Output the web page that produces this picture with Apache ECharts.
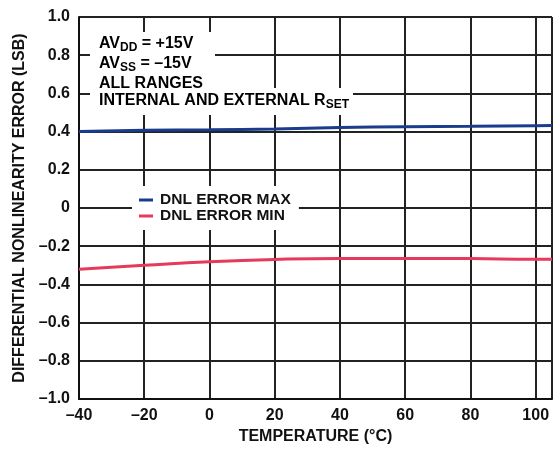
<!DOCTYPE html>
<html>
<head>
<meta charset="utf-8">
<script src="https://cdn.jsdelivr.net/npm/echarts@6/dist/echarts.min.js"></script>
<style>html,body{margin:0;padding:0;background:#fff}#c{width:555px;height:450px}</style>
</head>
<body>
<div id="c"></div>
<script>
var temps = [-40, -20, 0, 20, 40, 60, 80, 100, 105];
var dnlMax = [0.400, 0.407, 0.410, 0.414, 0.421, 0.426, 0.428, 0.431, 0.432];
var dnlMin = [-0.321, -0.300, -0.281, -0.269, -0.264, -0.264, -0.265, -0.268, -0.268];
var seriesNames = ['DNL ERROR MAX', 'DNL ERROR MIN'];
var seriesColors = ['#1a3c8c', '#e63a5c'];
var xTitle = 'TEMPERATURE (°C)';
var yTitle = 'DIFFERENTIAL NONLINEARITY ERROR (LSB)';

var FONT = '"Liberation Sans", Arial, sans-serif';
function pairs(xs, ys) { return xs.map(function (x, i) { return [x, ys[i]]; }); }
function dash(s) { return String(s).replace('-', '\u2013'); }

var chart = echarts.init(document.getElementById('c'), null, { renderer: 'canvas' });
var richBase = {
  b: { fontFamily: FONT, fontWeight: 'bold', fontSize: 16, lineHeight: 20, verticalAlign: 'middle', color: '#111' },
  s: { fontFamily: FONT, fontWeight: 'bold', fontSize: 12, lineHeight: 10, verticalAlign: 'bottom', color: '#111' }
};
chart.setOption({
  animation: false,
  backgroundColor: '#fff',
  grid: { left: 79, right: 0, top: 17, bottom: 51, containLabel: false },
  xAxis: {
    type: 'value', min: -40, max: 105, interval: 20,
    name: xTitle, nameLocation: 'middle', nameGap: 30,
    nameTextStyle: { fontFamily: FONT, fontWeight: 'bold', fontSize: 16, color: '#111' },
    axisLine: { show: true, onZero: false, lineStyle: { color: '#111', width: 2 } },
    axisTick: { show: false },
    axisLabel: {
      margin: 9, fontFamily: FONT, fontWeight: 'bold', fontSize: 16, color: '#111',
      formatter: function (v) { return v % 20 === 0 ? dash(v) : ''; }
    },
    splitLine: { show: true, lineStyle: { color: '#222', width: 2 } }
  },
  yAxis: {
    type: 'value', min: -1, max: 1, interval: 0.2,
    name: yTitle, nameLocation: 'middle', nameGap: 44,
    nameTextStyle: { fontFamily: FONT, fontWeight: 'bold', fontSize: 16, color: '#111' },
    axisLine: { show: true, onZero: false, lineStyle: { color: '#111', width: 2 } },
    axisTick: { show: false },
    axisLabel: {
      margin: 9, fontFamily: FONT, fontWeight: 'bold', fontSize: 16, color: '#111',
      formatter: function (v) { if (Math.abs(v) < 1e-9) return '0'; return (v < 0 ? '\u2013' : '') + Math.abs(v).toFixed(1); }
    },
    splitLine: { show: true, lineStyle: { color: '#222', width: 2 } }
  },
  legend: {
    orient: 'vertical', left: 132, top: 186,
    padding: [6, 8, 6, 7], itemGap: 0,
    backgroundColor: '#fff',
    icon: 'rect', itemWidth: 14, itemHeight: 3,
    textStyle: { fontFamily: FONT, fontWeight: 'bold', fontSize: 15.5, lineHeight: 16, color: '#111', padding: [0, 0, 0, 2] },
    data: seriesNames
  },
  graphic: [
    {
      type: 'text', left: 90, top: 32, z: 10,
      style: {
        text: '{b|AV}{s|DD}{b| = +15V}\n{b|AV}{s|SS}{b| = \u201315V}\n{b|ALL RANGES}',
        rich: richBase, backgroundColor: '#fff', padding: [2, 12, 0, 9]
      }
    },
    {
      type: 'text', left: 90, top: 88, z: 11,
      style: {
        text: '{b|INTERNAL AND EXTERNAL R}{s|SET}',
        rich: richBase, backgroundColor: '#fff', padding: [3, 4, 4, 9]
      }
    }
  ],
  series: [
    {
      name: seriesNames[0], type: 'line', data: pairs(temps, dnlMax), smooth: true,
      showSymbol: false, symbol: 'none', color: seriesColors[0],
      lineStyle: { color: seriesColors[0], width: 3 }
    },
    {
      name: seriesNames[1], type: 'line', data: pairs(temps, dnlMin), smooth: true,
      showSymbol: false, symbol: 'none', color: seriesColors[1],
      lineStyle: { color: seriesColors[1], width: 3 }
    }
  ]
});
</script>
</body>
</html>
